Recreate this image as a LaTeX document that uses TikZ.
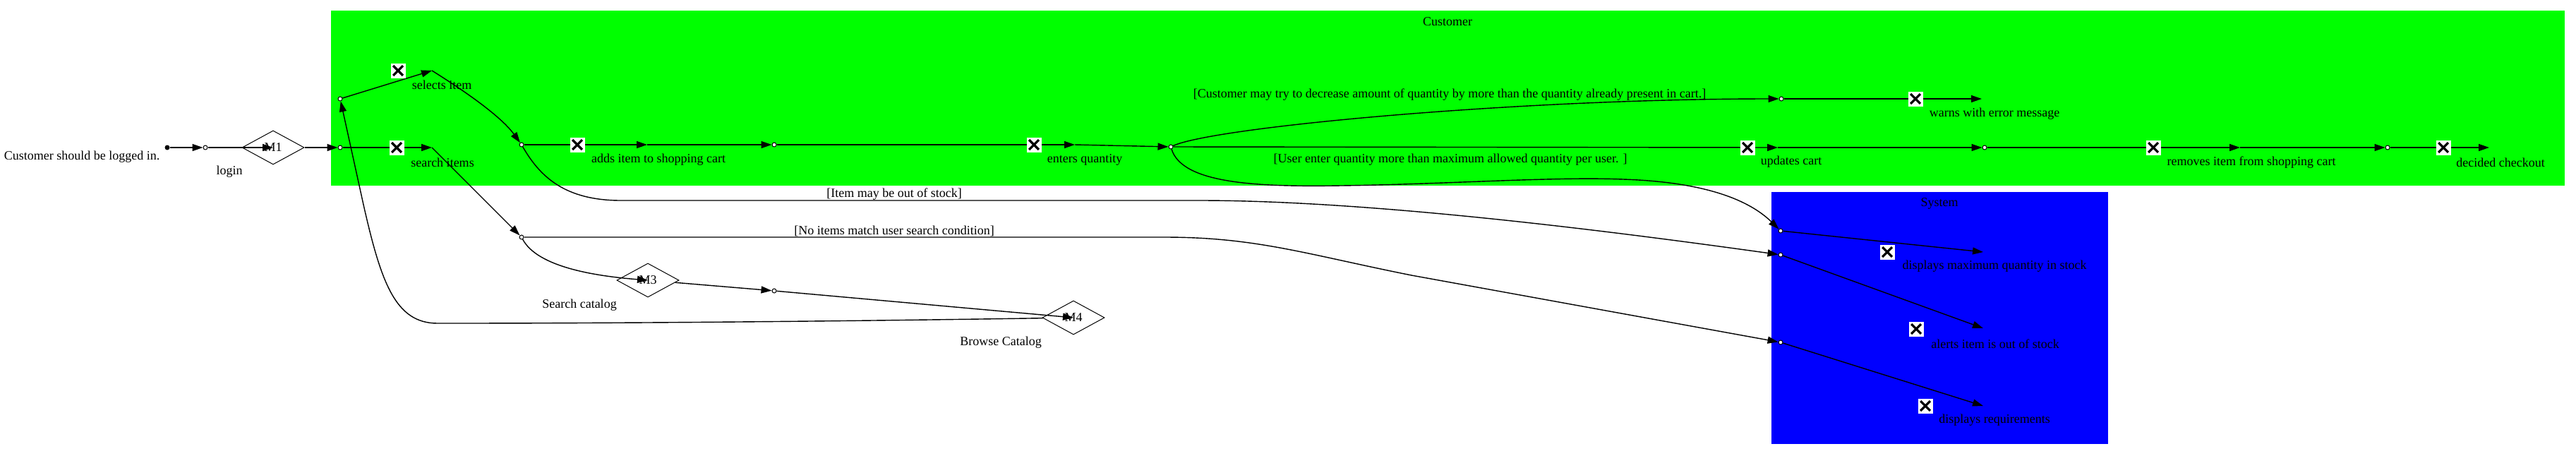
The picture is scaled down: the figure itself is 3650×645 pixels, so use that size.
\documentclass[tikz,border=0pt]{standalone}
\usepackage{fontspec}
\setmainfont{Liberation Serif}
\usepackage{tikz}
\usetikzlibrary{shapes}
\usetikzlibrary{arrows.meta}
\usetikzlibrary{positioning}

\begin{document}
\begin{tikzpicture}[x=0.5pt,y=-0.5pt,>={Triangle[length=7.5pt,width=5pt]},
    every node/.style={font=\fontsize{9}{11}\selectfont},
    flow/.style={line width=0.7pt},
    pin/.style={draw, circle, fill=white, inner sep=0pt, minimum size=3pt, line width=0.5pt},
    merge/.style={draw, diamond, inner sep=0pt, minimum width=44pt, minimum height=24pt, line width=0.5pt},
    xicon/.style={fill=white, inner sep=0pt, minimum size=10.5pt,
      path picture={\draw[line width=1.6pt]
        ([shift={(1.8pt,1.8pt)}]path picture bounding box.south west) -- ([shift={(-1.8pt,-1.8pt)}]path picture bounding box.north east)
        ([shift={(1.8pt,-1.8pt)}]path picture bounding box.north west) -- ([shift={(-1.8pt,1.8pt)}]path picture bounding box.south east);}}]
      \useasboundingbox (0,0) rectangle (3650,645);

      \fill[green] (469,15) rectangle (3634,263);
      \fill[blue] (2510,272) rectangle (2987,629);
      \node (cust) at (2051,31) {Customer};
      \node (sys) at (2748,288) {System};

      \node[circle, fill=black, inner sep=0pt, minimum size=3.5pt] (start) at (237,209) {};
      \node (pre) at (116,222) {Customer should be logged in.};
      \node[pin] (c1) at (291,209) {};
      \node[merge] (M1) at (387,209) {M1};
      \node (login) at (325,243) {login};
      \node[pin] (A) at (482,209) {};
      \node[pin] (B) at (482,140) {};
      \node[pin] (C) at (739,205) {};
      \node[pin] (D) at (1097,205) {};
      \node[pin] (E) at (1659,208) {};
      \node[pin] (F) at (2524,140) {};
      \node[pin] (G) at (2812,209) {};
      \node[pin] (H) at (3383,209) {};
      \node[pin] (I) at (739,336) {};
      \node[pin] (J) at (1097,412) {};
      \node[pin] (S1) at (2523,327) {};
      \node[pin] (S2) at (2523,361) {};
      \node[pin] (S3) at (2523,485) {};
      \node[merge] (M3) at (918,397) {M3};
      \node (srchcat) at (821,432) {Search catalog};
      \node[merge] (M4) at (1521,450) {M4};
      \node (browse) at (1418,485) {Browse Catalog};

      \coordinate (sel) at (612,100);
      \coordinate (srch) at (612,209);
      \coordinate (adds) at (917,205);
      \coordinate (ent) at (1523,205);
      \coordinate (warn) at (2808,140);
      \coordinate (upd) at (2519,209);
      \coordinate (rem) at (3174,209);
      \coordinate (chk) at (3527,209);
      \coordinate (dmax) at (2810,357);
      \coordinate (alrt) at (2810,465);
      \coordinate (dreq) at (2810,575);

      \node (selL) at (626,120) {selects item};
      \node (srchL) at (627,230) {search items};
      \node (addsL) at (933,226) {adds item to shopping cart};
      \node (entL) at (1537,226) {enters quantity};
      \node (warnL) at (2826,161) {warns with error message};
      \node (updL) at (2538,229) {updates cart};
      \node (remL) at (3190,230) {removes item from shopping cart};
      \node (chkL) at (3543,230) {decided checkout};
      \node (dmaxL) at (2826,377) {displays maximum quantity in stock};
      \node (alrtL) at (2827,487) {alerts item is out of stock};
      \node (dreqL) at (2826,595) {displays requirements};

      \node (g1) at (2054,134) {[Customer may try to decrease amount of quantity by more than the quantity already present in cart.]};
      \node (g2) at (2055,226) {[User enter quantity more than maximum allowed quantity per user. ]};
      \node (g3) at (1267,275) {[Item may be out of stock]};
      \node (g4) at (1267,327) {[No items match user search condition]};

      \draw[flow,->] (start) -- (c1);
      \draw[flow,->] (c1) -- (M1.center);
      \draw[flow,->] (M1) -- (A);
      \draw[flow,->] (B) -- (sel);
      \draw[flow,->] (A) -- (srch);
      \draw[flow,->] (sel) .. controls (660,130) and (710,165) .. (C);
      \draw[flow,->] (srch) -- (I);
      \draw[flow,->] (C) -- (adds);
      \draw[flow,->] (adds) -- (D);
      \draw[flow,->] (D) -- (ent);
      \draw[flow,->] (ent) -- (E);
      \draw[flow,->] (E) .. controls (1720,180) and (2150,140) .. (F);
      \draw[flow,->] (F) -- (warn);
      \draw[flow,->] (E) -- (upd);
      \draw[flow,->] (upd) -- (G);
      \draw[flow,->] (G) -- (rem);
      \draw[flow,->] (rem) -- (H);
      \draw[flow,->] (H) -- (chk);
      \draw[flow,->] (E) .. controls (1675,260) and (1780,265) .. (1900,263) .. controls (2050,261) and (2200,250) .. (2300,254) .. controls (2420,258) and (2480,285) .. (S1);
      \draw[flow,->] (C) .. controls (765,250) and (800,284) .. (880,284) -- (1700,284) .. controls (1950,284) and (2300,330) .. (S2);
      \draw[flow,->] (I) -- (1650,336) .. controls (1780,336) and (1850,360) .. (2000,390) -- (S3);
      \draw[flow,->] (I) .. controls (760,375) and (830,390) .. (M3.center);
      \draw[flow,->] (M3) -- (J);
      \draw[flow,->] (J) -- (M4.center);
      \draw[flow,->] (M4) .. controls (1200,455) and (900,458) .. (620,458) .. controls (560,458) and (540,400) .. (515,290) -- (B);
      \draw[flow,->] (S1) -- (dmax);
      \draw[flow,->] (S2) -- (alrt);
      \draw[flow,->] (S3) -- (dreq);

      \node[xicon] (x1) at (564,100) {};
      \node[xicon] (x2) at (562,209) {};
      \node[xicon] (x3) at (818,205) {};
      \node[xicon] (x4) at (1465,205) {};
      \node[xicon] (x5) at (2714,140) {};
      \node[xicon] (x6) at (2476,209) {};
      \node[xicon] (x7) at (3051,209) {};
      \node[xicon] (x8) at (3462,209) {};
      \node[xicon] (x9) at (2674,357) {};
      \node[xicon] (x10) at (2715,466) {};
      \node[xicon] (x11) at (2728,575) {};
    \end{tikzpicture}
\end{document}
